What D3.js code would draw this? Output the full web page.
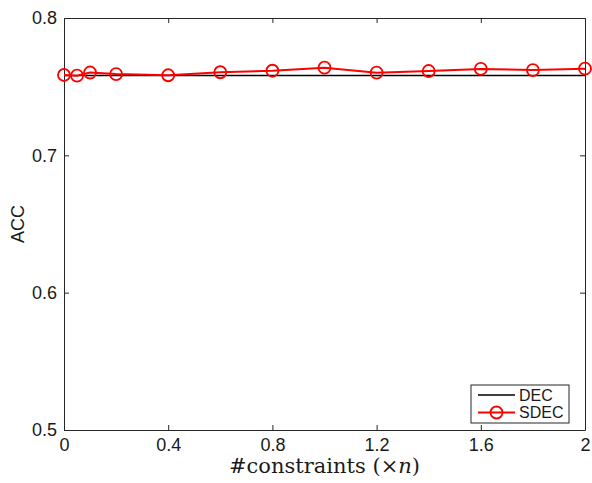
<!DOCTYPE html>
<html>
<head>
<meta charset="utf-8">
<script src="https://cdn.jsdelivr.net/npm/d3@7"></script>
<style>
  body { margin: 0; background: #fff; }
  svg { display: block; }
</style>
</head>
<body>
<div id="chart-area"></div>
<script>
// data
const ratios = [0, 0.05, 0.1, 0.2, 0.4, 0.6, 0.8, 1.0, 1.2, 1.4, 1.6, 1.8, 2.0];
const decAcc = [0.7581, 0.7581, 0.7581, 0.7581, 0.7581, 0.7581, 0.7581, 0.7581, 0.7581, 0.7581, 0.7581, 0.7581, 0.7581];
const sdecAcc = [0.7585, 0.7580, 0.7603, 0.7592, 0.7583, 0.7605, 0.7616, 0.7638, 0.7602, 0.7614, 0.7629, 0.7621, 0.7631];
const xTicks = [0, 0.4, 0.8, 1.2, 1.6, 2];
const yTicks = [0.5, 0.6, 0.7, 0.8];

const W = 592, H = 483;
const margin = { top: 18, right: 7, bottom: 53, left: 64 };
const width = W - margin.left - margin.right;
const height = H - margin.top - margin.bottom;

const x = d3.scaleLinear().domain([0, 2]).range([0, width]);
const y = d3.scaleLinear().domain([0.5, 0.8]).range([height, 0]);

const svg = d3.select('#chart-area').append('svg')
  .attr('width', W)
  .attr('height', H);

const g = svg.append('g')
  .attr('transform', `translate(${margin.left}, ${margin.top})`);

const axisColor = '#262626';
const tickFont = 'Liberation Sans, Arial, Helvetica, sans-serif';

// bottom axis (ticks inward)
const xAxis = g.append('g')
  .attr('transform', `translate(0, ${height})`)
  .call(d3.axisBottom(x).tickValues(xTicks).tickSizeInner(-5).tickSizeOuter(0)
    .tickFormat(d => d3.format('~g')(d)));
xAxis.selectAll('text').attr('y', 8).attr('dy', '0.71em');

// top axis mirror ticks
const xTop = g.append('g')
  .call(d3.axisTop(x).tickValues(xTicks).tickSizeInner(-5).tickSizeOuter(0).tickFormat(''));

// left axis
const yAxis = g.append('g')
  .call(d3.axisLeft(y).tickValues(yTicks).tickSizeInner(-5).tickSizeOuter(0)
    .tickFormat(d3.format('.1f')));
yAxis.selectAll('text').attr('x', -7);

// right axis mirror ticks
const yRight = g.append('g')
  .attr('transform', `translate(${width}, 0)`)
  .call(d3.axisRight(y).tickValues(yTicks).tickSizeInner(-5).tickSizeOuter(0).tickFormat(''));

[xAxis, xTop, yAxis, yRight].forEach(ax => {
  ax.select('.domain').attr('stroke', axisColor).attr('stroke-width', 1);
  ax.selectAll('.tick line').attr('stroke', axisColor);
  ax.selectAll('text')
    .attr('fill', '#1a1a1a')
    .attr('font-size', '18px')
    .attr('font-family', tickFont);
});

// y axis label
g.append('text')
  .attr('transform', 'rotate(-90)')
  .attr('x', -height / 2)
  .attr('y', -40)
  .attr('text-anchor', 'middle')
  .attr('font-size', '18px')
  .attr('font-family', tickFont)
  .attr('fill', '#1a1a1a')
  .text('ACC');

// x axis label (LaTeX-like)
const xLabel = g.append('text')
  .attr('x', width / 2)
  .attr('y', height + 43)
  .attr('text-anchor', 'middle')
  .attr('font-size', '20px')
  .attr('font-family', 'DejaVu Serif, serif')
  .attr('fill', '#1a1a1a')
  .attr('textLength', 191)
  .attr('lengthAdjust', 'spacingAndGlyphs');
xLabel.append('tspan').text('#constraints (\u00D7');
xLabel.append('tspan').attr('font-style', 'italic').text('n');
xLabel.append('tspan').text(')');

// lines
const lineDec = d3.line()
  .x((d, i) => x(ratios[i]))
  .y(d => y(d));

g.append('path')
  .datum(decAcc)
  .attr('fill', 'none')
  .attr('stroke', '#000')
  .attr('stroke-width', 1.5)
  .attr('d', lineDec);

g.append('path')
  .datum(sdecAcc)
  .attr('fill', 'none')
  .attr('stroke', '#ff0000')
  .attr('stroke-width', 2)
  .attr('d', lineDec);

g.selectAll('circle.sdec')
  .data(sdecAcc)
  .enter()
  .append('circle')
  .attr('class', 'sdec')
  .attr('cx', (d, i) => x(ratios[i]))
  .attr('cy', d => y(d))
  .attr('r', 6)
  .attr('fill', 'none')
  .attr('stroke', '#ff0000')
  .attr('stroke-width', 1.8);

// legend
const legend = g.append('g')
  .attr('transform', `translate(${471 - margin.left}, ${385 - margin.top})`);

legend.append('rect')
  .attr('width', 98)
  .attr('height', 38)
  .attr('fill', '#fff')
  .attr('stroke', axisColor)
  .attr('stroke-width', 1);

const series = [
  { name: 'DEC', colour: '#000', marker: false },
  { name: 'SDEC', colour: '#ff0000', marker: true }
];

series.forEach((el, i) => {
  const row = legend.append('g')
    .attr('transform', `translate(0, ${10 + i * 17.5})`);
  row.append('line')
    .attr('x1', 7).attr('x2', 44)
    .attr('stroke', el.colour)
    .attr('stroke-width', el.marker ? 2 : 1.5);
  if (el.marker) {
    row.append('circle')
      .attr('cx', 25.5)
      .attr('r', 6)
      .attr('fill', 'none')
      .attr('stroke', el.colour)
      .attr('stroke-width', 1.8);
  }
  row.append('text')
    .attr('x', 48)
    .attr('dy', '0.36em')
    .attr('font-size', '16px')
    .attr('font-family', tickFont)
    .attr('fill', '#1a1a1a')
    .text(el.name);
});
</script>
</body>
</html>
